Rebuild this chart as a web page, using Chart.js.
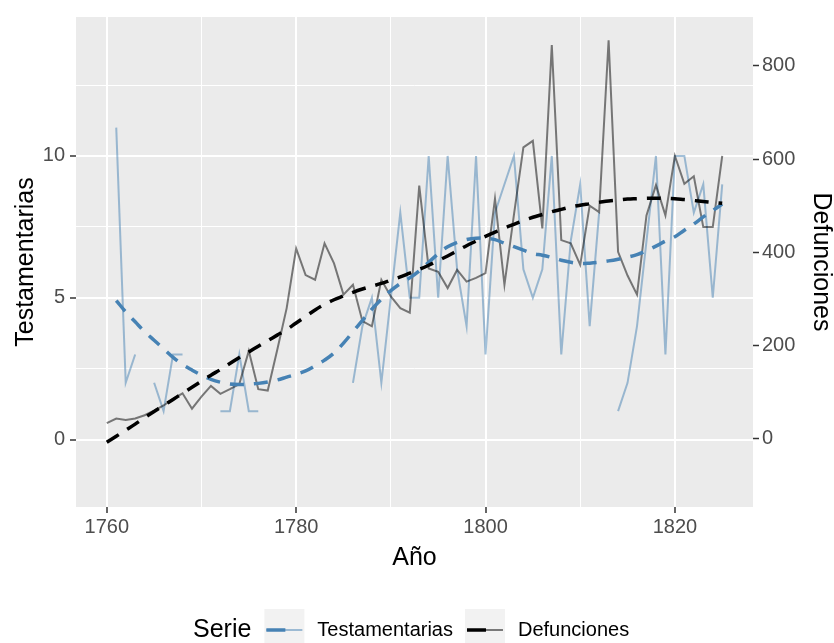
<!DOCTYPE html>
<html lang="es">
<head>
<meta charset="utf-8">
<title>Testamentarias y defunciones</title>
<script src="https://cdn.jsdelivr.net/npm/chart.js@4.4.1/dist/chart.umd.min.js"></script>
<style>
  html, body { margin: 0; padding: 0; background: #ffffff; }
  #contenedor { width: 834px; height: 643px; }
</style>
</head>
<body>
<div id="contenedor"><canvas id="grafico" width="834" height="643"></canvas></div>
<script>
// Años observados
const anios = [
  1760, 1761, 1762, 1763, 1764, 1765, 1766, 1767, 1768, 1769,
  1770, 1771, 1772, 1773, 1774, 1775, 1776, 1777, 1778, 1779,
  1780, 1781, 1782, 1783, 1784, 1785, 1786, 1787, 1788, 1789,
  1790, 1791, 1792, 1793, 1794, 1795, 1796, 1797, 1798, 1799,
  1800, 1801, 1802, 1803, 1804, 1805, 1806, 1807, 1808, 1809,
  1810, 1811, 1812, 1813, 1814, 1815, 1816, 1817, 1818, 1819,
  1820, 1821, 1822, 1823, 1824, 1825
];

// Número de testamentarias por año (null = sin dato)
const testamentarias = [
  null, 11, 2, 3, null, 2, 1, 3, 3, null,
  null, null, 1, 1, 3, 1, 1, null, null, null,
  null, null, null, null, null, null, 2, 4, 5, 2,
  5, 8, 5, 5, 10, 5, 10, 6, 4, 10,
  3, 8, 9, 10, 6, 5, 6, 10, 3, 7,
  9, 4, 8, null, 1, 2, 4, 7, 10, 3,
  10, 10, 8, 9, 5, 9
];

// Defunciones por año (eje derecho)
const defunciones = [
  33, 43, 40, 43, 50, 60, 71, 85, 97, 64,
  90, 113, 96, 106, 117, 188, 106, 103, 190, 280,
  408, 351, 341, 419, 376, 309, 330, 252, 241, 341,
  305, 280, 270, 543, 365, 358, 323, 362, 337, 345,
  355, 515, 330, 480, 625, 639, 451, 845, 426, 419,
  373, 500, 486, 855, 401, 350, 309, 479, 544, 479,
  607, 547, 563, 454, 454, 607
];

// Curvas suavizadas (loess) de cada serie
const tendenciaTestamentarias = [
  null, 4.9, 4.5, 4.15, 3.8, 3.5, 3.2, 2.9, 2.65, 2.45,
  2.27, 2.12, 2.02, 1.96, 1.94, 1.95, 1.98, 2.03, 2.1, 2.2,
  2.3, 2.42, 2.6, 2.8, 3.05, 3.4, 3.8, 4.2, 4.6, 4.95,
  5.25, 5.5, 5.7, 5.95, 6.25, 6.55, 6.8, 6.95, 7.05, 7.1,
  7.1, 7.05, 6.92, 6.8, 6.68, 6.56, 6.5, 6.42, 6.32, 6.25,
  6.21, 6.22, 6.25, 6.3, 6.36, 6.43, 6.52, 6.66, 6.82, 7.0,
  7.15, 7.38, 7.6, 7.85, 8.08, 8.3
];

const tendenciaDefunciones = [
  -8, 5, 18, 31, 45, 58, 71, 84, 97, 110,
  123, 136, 148, 161, 174, 186, 198, 210, 222, 234,
  248, 262, 276, 288, 298, 306, 314, 321, 327, 333,
  340, 347, 355, 363, 372, 382, 392, 403, 414, 424,
  434, 443, 452, 460, 468, 475, 481, 487, 492, 497,
  501, 504, 507, 510, 512, 514, 515, 516, 516, 516,
  515, 513, 511, 509, 507, 505
];

// Marcas de los ejes
const ticksX = [1760, 1770, 1780, 1790, 1800, 1810, 1820];
const etiquetasX = [1760, 1780, 1800, 1820];
const ticksY = [0, 2.5, 5, 7.5, 10, 12.5];
const etiquetasY = [0, 5, 10];
const ticksY2 = [0, 200, 400, 600, 800];

const fuente = "'Liberation Sans', Arial, sans-serif";
const azul = '#4682B4';
const azulClaro = 'rgba(70, 130, 180, 0.5)';
const grisLinea = 'rgba(0, 0, 0, 0.5)';
const colorTexto = '#4D4D4D';
const colorMarca = '#333333';

function puntos(valores) {
  return anios.map((a, i) => ({ x: a, y: valores[i] }));
}

// Fondo gris del panel
const fondoPanel = {
  id: 'fondoPanel',
  beforeDraw(chart) {
    const { ctx, chartArea } = chart;
    ctx.save();
    ctx.fillStyle = '#EBEBEB';
    ctx.fillRect(chartArea.left, chartArea.top, chartArea.width, chartArea.height);
    ctx.restore();
  }
};

// Leyenda inferior con título "Serie"
const leyendaSerie = {
  id: 'leyendaSerie',
  afterDraw(chart) {
    const ctx = chart.ctx;
    const yCentro = 630;
    const cajaTop = 609;
    const cajaLado = 40;
    let x = 193;

    ctx.save();
    ctx.textBaseline = 'middle';
    ctx.textAlign = 'left';
    ctx.fillStyle = '#000000';
    ctx.font = '25px ' + fuente;
    ctx.fillText('Serie', x, yCentro);
    x += ctx.measureText('Serie').width + 13;

    const items = [
      { texto: 'Testamentarias', claro: azulClaro, fuerte: azul },
      { texto: 'Defunciones', claro: grisLinea, fuerte: '#000000' }
    ];
    items.forEach(item => {
      ctx.fillStyle = '#F2F2F2';
      ctx.fillRect(x, cajaTop, cajaLado, cajaLado);
      // línea fina de la serie
      ctx.strokeStyle = item.claro;
      ctx.lineWidth = 2;
      ctx.beginPath();
      ctx.moveTo(x + 2, yCentro);
      ctx.lineTo(x + cajaLado - 2, yCentro);
      ctx.stroke();
      // tramo discontinuo de la tendencia
      ctx.strokeStyle = item.fuerte;
      ctx.lineWidth = 3.5;
      ctx.beginPath();
      ctx.moveTo(x + 2, yCentro);
      ctx.lineTo(x + 21, yCentro);
      ctx.stroke();
      x += cajaLado + 13;

      ctx.fillStyle = '#000000';
      ctx.font = '20px ' + fuente;
      ctx.fillText(item.texto, x, yCentro);
      x += ctx.measureText(item.texto).width + 12;
    });
    ctx.restore();
  }
};

const ctx = document.getElementById('grafico').getContext('2d');

new Chart(ctx, {
  type: 'line',
  data: {
    datasets: [
      {
        label: 'Tendencia defunciones',
        data: puntos(tendenciaDefunciones),
        yAxisID: 'y2',
        borderColor: '#000000',
        borderWidth: 3.5,
        borderDash: [14, 10],
        pointRadius: 0,
        tension: 0.4,
        order: 0
      },
      {
        label: 'Tendencia testamentarias',
        data: puntos(tendenciaTestamentarias),
        yAxisID: 'y',
        borderColor: azul,
        borderWidth: 3.5,
        borderDash: [14, 10],
        pointRadius: 0,
        tension: 0.4,
        order: 1
      },
      {
        label: 'Defunciones',
        data: puntos(defunciones),
        yAxisID: 'y2',
        borderColor: grisLinea,
        borderWidth: 2,
        pointRadius: 0,
        tension: 0,
        order: 2
      },
      {
        label: 'Testamentarias',
        data: puntos(testamentarias),
        yAxisID: 'y',
        borderColor: azulClaro,
        borderWidth: 2,
        pointRadius: 0,
        tension: 0,
        order: 3
      }
    ]
  },
  options: {
    responsive: false,
    animation: false,
    events: [],
    layout: { padding: { top: 13, bottom: 66, left: 0, right: 0 } },
    plugins: {
      legend: { display: false },
      tooltip: { enabled: false }
    },
    scales: {
      x: {
        type: 'linear',
        position: 'bottom',
        min: 1756.75,
        max: 1828.25,
        afterBuildTicks: escala => { escala.ticks = ticksX.map(v => ({ value: v })); },
        afterFit: escala => { escala.height = 70; },
        border: { display: false },
        grid: {
          color: '#FFFFFF',
          lineWidth: c => (etiquetasX.includes(c.tick.value) ? 2 : 1),
          tickColor: c => (etiquetasX.includes(c.tick.value) ? colorMarca : 'rgba(0,0,0,0)'),
          tickLength: 6,
          tickWidth: 1.5
        },
        ticks: {
          autoSkip: false,
          maxRotation: 0,
          padding: 2,
          color: colorTexto,
          font: { family: fuente, size: 20 },
          callback: v => (etiquetasX.includes(v) ? String(v) : '')
        },
        title: {
          display: true,
          text: 'Año',
          color: '#000000',
          font: { family: fuente, size: 25, lineHeight: 1 },
          padding: { top: 0, bottom: 6.5 }
        }
      },
      y: {
        type: 'linear',
        position: 'left',
        min: -2.38,
        max: 14.9,
        afterBuildTicks: escala => { escala.ticks = ticksY.map(v => ({ value: v })); },
        afterFit: escala => { escala.width = 76; },
        border: { display: false },
        grid: {
          color: '#FFFFFF',
          lineWidth: c => (etiquetasY.includes(c.tick.value) ? 2 : 1),
          tickColor: c => (etiquetasY.includes(c.tick.value) ? colorMarca : 'rgba(0,0,0,0)'),
          tickLength: 6,
          tickWidth: 1.5
        },
        ticks: {
          autoSkip: false,
          padding: 5,
          color: colorTexto,
          font: { family: fuente, size: 20 },
          callback: v => (etiquetasY.includes(v) ? String(v) : '')
        },
        title: {
          display: true,
          text: 'Testamentarias',
          color: '#000000',
          font: { family: fuente, size: 25, lineHeight: 1 },
          padding: { top: 13.5, bottom: 0 }
        }
      },
      y2: {
        type: 'linear',
        position: 'right',
        min: -147,
        max: 905,
        afterBuildTicks: escala => { escala.ticks = ticksY2.map(v => ({ value: v })); },
        afterFit: escala => { escala.width = 81; },
        border: { display: false },
        grid: {
          drawOnChartArea: false,
          color: colorMarca,
          tickColor: colorMarca,
          tickLength: 6,
          tickWidth: 1.5
        },
        ticks: {
          autoSkip: false,
          padding: 3,
          color: colorTexto,
          font: { family: fuente, size: 20 },
          callback: v => String(v)
        },
        title: {
          display: true,
          text: 'Defunciones',
          color: '#000000',
          font: { family: fuente, size: 25, lineHeight: 1 },
          padding: { top: 0.5, bottom: 0 }
        }
      }
    }
  },
  plugins: [fondoPanel, leyendaSerie]
});
</script>
</body>
</html>
